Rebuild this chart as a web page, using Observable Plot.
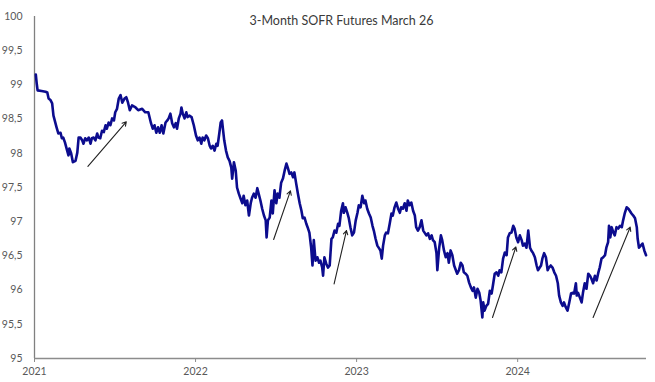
<!DOCTYPE html>
<html>
<head>
<meta charset="utf-8">
<script src="https://cdn.jsdelivr.net/npm/d3@7"></script>
<script src="https://cdn.jsdelivr.net/npm/@observablehq/plot@0.6"></script>
<style>
  html, body { margin: 0; padding: 0; background: #fff; overflow: hidden; }
</style>
</head>
<body>
<div id="chart"></div>
<script>
const title = "3-Month SOFR Futures March 26";

const dates2021 = ["01-04","01-06","01-08","01-17","01-26","01-30","02-02","02-06","02-10","02-13","02-20","02-24","03-01","03-04","03-07","03-11","03-16","03-19","03-21","03-25","03-29","04-04","04-08","04-11","04-15","04-19","04-22","04-26","04-30","05-04","05-08","05-11","05-15","05-19","05-23","05-26","05-30","06-03","06-07","06-11","06-14","06-18","06-22","06-26","06-30","07-03","07-07","07-11","07-15","07-19","07-24","07-28","08-01","08-05","08-10","08-18","08-24","09-02","09-09","09-16","09-22","09-26","09-30","10-04","10-08","10-12","10-16","10-20","10-25","10-29","11-01","11-05","11-09","11-13","11-17","11-20","11-24","11-28","11-30","12-03","12-07","12-11","12-14","12-18","12-23","12-28"];
const values2021 = [99.15,99.02,98.92,98.91,98.90,98.89,98.80,98.78,98.73,98.55,98.38,98.29,98.30,98.22,98.23,98.16,98.04,97.97,98.07,98.00,97.87,97.89,98.01,98.23,98.23,98.19,98.14,98.22,98.19,98.23,98.14,98.22,98.23,98.19,98.29,98.23,98.22,98.33,98.31,98.41,98.36,98.45,98.41,98.51,98.48,98.60,98.65,98.80,98.85,98.74,98.80,98.82,98.74,98.63,98.70,98.67,98.63,98.65,98.60,98.60,98.44,98.36,98.41,98.30,98.38,98.30,98.41,98.29,98.45,98.48,98.51,98.58,98.44,98.38,98.44,98.36,98.51,98.58,98.67,98.58,98.51,98.60,98.53,98.55,98.53,98.41];

const dates2022 = ["01-02","01-06","01-10","01-14","01-17","01-21","01-25","01-29","02-02","02-05","02-09","02-13","02-17","02-20","02-24","02-27","03-02","03-04","03-07","03-11","03-15","03-19","03-23","03-25","03-29","04-02","04-05","04-09","04-13","04-17","04-20","04-24","04-28","05-02","05-06","05-09","05-13","05-17","05-21","05-24","05-28","06-01","06-05","06-09","06-11","06-14","06-18","06-22","06-25","06-29","07-03","07-06","07-10","07-14","07-18","07-22","07-26","07-29","08-02","08-06","08-10","08-13","08-17","08-21","08-25","08-29","09-01","09-05","09-09","09-13","09-16","09-20","09-23","09-26","09-30","10-04","10-08","10-11","10-15","10-17","10-20","10-24","10-28","11-01","11-05","11-08","11-12","11-16","11-20","11-23","11-27","12-01","12-03","12-07","12-11","12-14","12-18","12-22","12-26","12-30"];
const values2022 = [98.26,98.19,98.23,98.14,98.23,98.19,98.26,98.22,98.11,98.07,98.11,98.04,98.14,98.11,98.30,98.45,98.48,98.36,98.19,98.04,97.94,97.89,97.79,97.63,97.87,97.75,97.50,97.41,97.34,97.27,97.38,97.24,97.31,97.09,97.27,97.35,97.41,97.35,97.49,97.41,97.31,97.19,97.09,97.02,96.77,97.02,97.06,97.31,97.12,97.46,97.27,97.41,97.35,97.57,97.63,97.75,97.85,97.79,97.70,97.72,97.65,97.72,97.56,97.41,97.27,97.16,97.05,97.06,96.97,96.90,96.84,96.62,96.36,96.73,96.43,96.48,96.40,96.43,96.33,96.21,96.48,96.39,96.33,96.36,96.75,96.77,96.87,96.84,96.97,96.94,97.16,97.27,97.13,97.21,97.13,97.06,96.92,96.80,96.84,97.02];

const dates2023 = ["01-03","01-06","01-10","01-14","01-18","01-21","01-25","01-29","02-02","02-06","02-09","02-13","02-17","02-21","02-24","02-27","03-02","03-06","03-09","03-13","03-17","03-21","03-24","03-28","04-01","04-05","04-09","04-12","04-16","04-20","04-24","04-27","05-01","05-05","05-09","05-13","05-16","05-20","05-24","05-28","06-01","06-04","06-08","06-12","06-16","06-20","06-23","06-27","07-01","07-03","07-07","07-11","07-14","07-18","07-22","07-26","07-29","08-02","08-06","08-10","08-14","08-17","08-21","08-25","08-29","09-01","09-05","09-09","09-13","09-17","09-21","09-24","09-28","10-02","10-06","10-09","10-13","10-15","10-18","10-22","10-26","10-30","11-03","11-06","11-10","11-14","11-18","11-21","11-25","11-29","12-03","12-07","12-10","12-14","12-18","12-22","12-25","12-29"];
const values2023 = [97.13,97.24,97.21,97.38,97.27,97.31,97.19,97.12,97.06,96.94,96.87,96.75,96.65,96.61,96.58,96.46,96.65,96.80,96.84,96.83,96.97,97.12,97.09,97.21,97.28,97.19,97.13,97.21,97.19,97.27,97.16,97.31,97.24,97.28,97.16,97.09,96.92,96.87,96.92,97.02,96.87,96.84,96.80,96.83,96.75,96.80,96.73,96.70,96.54,96.29,96.61,96.80,96.73,96.58,96.48,96.54,96.40,96.58,96.51,96.36,96.29,96.24,96.29,96.40,96.36,96.26,96.24,96.21,96.11,96.04,95.99,96.04,95.89,96.02,95.96,95.85,95.60,95.82,95.70,95.77,95.80,95.99,95.95,96.07,96.24,96.26,96.21,96.29,96.26,96.46,96.55,96.51,96.77,96.83,96.84,96.94,96.90,96.77];

const dates2024 = ["01-02","01-06","01-10","01-13","01-17","01-21","01-25","01-29","02-01","02-05","02-09","02-13","02-16","02-20","02-23","02-26","03-01","03-05","03-09","03-12","03-16","03-20","03-24","03-28","04-01","04-04","04-08","04-12","04-15","04-19","04-23","04-27","05-01","05-04","05-08","05-12","05-14","05-17","05-21","05-25","05-28","06-01","06-05","06-09","06-13","06-16","06-20","06-24","06-28","07-02","07-05","07-09","07-13","07-17","07-20","07-24","07-26","07-29","08-01","08-05","08-08","08-12","08-16","08-20","08-24","08-27","08-31","09-04","09-08","09-11","09-15","09-19","09-23","09-27","09-29","10-02","10-06","10-10","10-14","10-18"];
const values2024 = [96.70,96.80,96.73,96.65,96.68,96.62,96.87,96.62,96.58,96.54,96.48,96.36,96.29,96.33,96.36,96.46,96.54,96.48,96.29,96.33,96.36,96.33,96.26,96.21,96.10,95.92,95.82,95.77,95.82,95.75,95.70,95.82,95.95,95.96,95.95,96.10,95.92,95.96,95.89,95.82,95.96,96.10,96.02,96.24,96.21,96.17,96.10,96.21,96.14,96.26,96.33,96.46,96.48,96.51,96.62,96.70,96.94,96.77,96.92,96.84,96.80,96.92,96.90,96.94,96.92,97.02,97.13,97.21,97.19,97.16,97.12,97.09,97.05,96.92,96.75,96.62,96.65,96.68,96.58,96.51];

// annotation arrows (start/end dates and values)
const arrowStartDates = ["2021-05-02","2022-06-27","2022-11-11","2023-11-05","2024-06-20"];
const arrowStartValues = [97.81, 96.74, 96.09, 95.60, 95.60];
const arrowEndDates   = ["2021-07-28","2022-08-04","2022-12-09","2023-12-28","2024-09-12"];
const arrowEndValues   = [98.46, 97.45, 96.87, 96.63, 96.92];

const yTicks = [95, 95.5, 96, 96.5, 97, 97.5, 98, 98.5, 99, 99.5, 100];
const xTickLabels = ["2021", "2022", "2023", "2024"];
const xDomain = ["2021-01-01", "2024-10-19"];

const parse = d3.utcParse("%Y-%m-%d");
const series = [];
[[2021, dates2021, values2021], [2022, dates2022, values2022], [2023, dates2023, values2023], [2024, dates2024, values2024]]
  .forEach(([yr, ds, vs]) => ds.forEach((d, i) => series.push({date: parse(`${yr}-${d}`), value: vs[i]})));

const arrows = arrowStartDates.map((d, i) => ({
  x1: parse(d), y1: arrowStartValues[i], x2: parse(arrowEndDates[i]), y2: arrowEndValues[i]
}));

const xTicks = xTickLabels.map(y => parse(`${y}-01-01`));
const commaFmt = d => String(d).replace(".", ",");

const chart = Plot.plot({
  width: 655,
  height: 382,
  marginLeft: 34,
  marginRight: 9,
  marginTop: 16,
  marginBottom: 24,
  style: {fontFamily: "Lato, 'Open Sans', sans-serif", fontSize: "10.5px", color: "#595959", background: "#fff"},
  x: {type: "utc", domain: xDomain.map(parse)},
  y: {domain: [95, 100]},
  marks: [
    Plot.ruleX([parse(xDomain[0])], {stroke: "#808080", strokeWidth: 1.3}),
    Plot.ruleY([95], {stroke: "#8c8c8c", strokeWidth: 1.4}),
    Plot.axisY({ticks: yTicks, tickSize: 0, tickPadding: 12, tickFormat: commaFmt, label: null}),
    Plot.axisX({ticks: xTicks, tickSize: 4, tickPadding: 5, tickFormat: d3.utcFormat("%Y"), label: null, stroke: "#8c8c8c"}),
    Plot.line(series, {x: "date", y: "value", stroke: "#0c0c8e", strokeWidth: 2.6, strokeLinejoin: "round"}),
    Plot.arrow(arrows, {x1: "x1", y1: "y1", x2: "x2", y2: "y2", stroke: "#222", strokeWidth: 1.1, headLength: 6}),
    Plot.text([title], {frameAnchor: "top", fontSize: 12.5, fill: "#3a3a3a", dx: 1})
  ]
});
document.getElementById("chart").appendChild(chart);
</script>
</body>
</html>
